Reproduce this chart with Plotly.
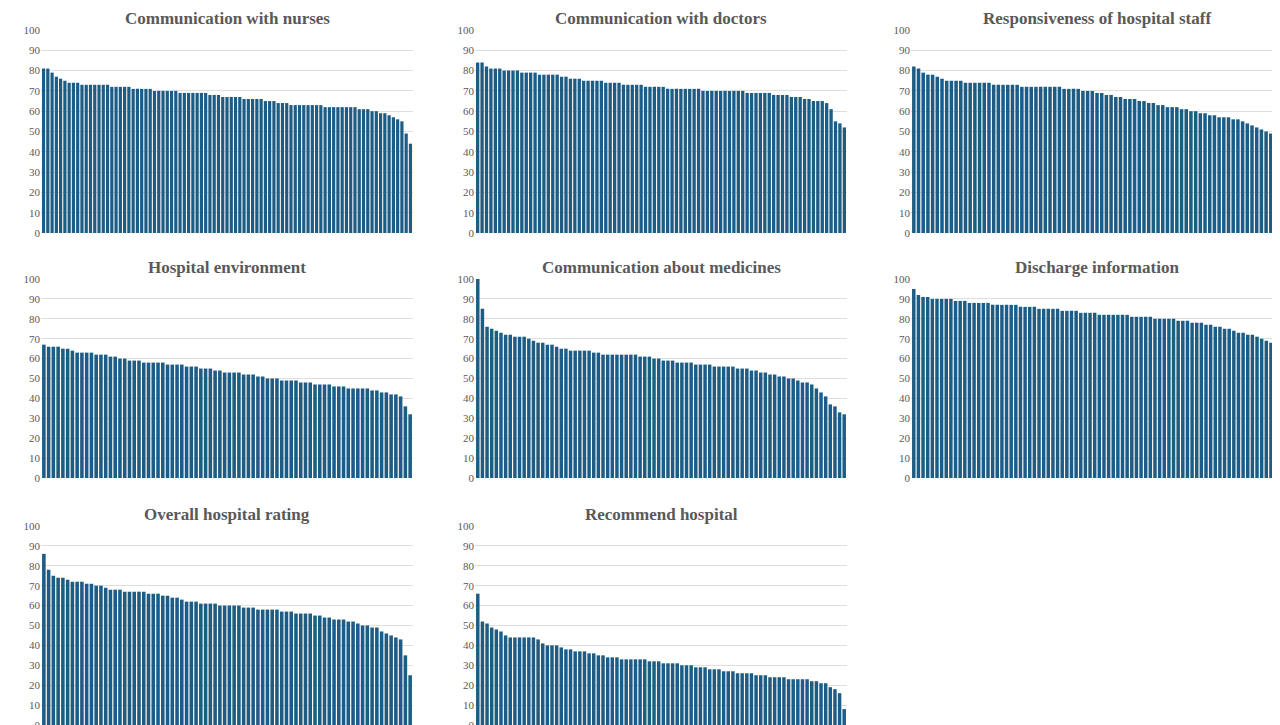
import plotly.graph_objects as go

titles = ["Communication with nurses", "Communication with doctors", "Responsiveness of hospital staff",
          "Hospital environment", "Communication about medicines", "Discharge information",
          "Overall hospital rating", "Recommend hospital"]

nurses = [81,81,79,77,76,75,74,74,74,73,73,73,73,73,73,73,72,72,72,72,72,71,71,71,71,71,70,70,70,70,70,70,69,69,69,69,69,69,69,68,68,68,67,67,67,67,67,66,66,66,66,66,65,65,65,64,64,64,63,63,63,63,63,63,63,63,62,62,62,62,62,62,62,62,61,61,61,60,60,59,59,58,57,56,55,49,44]
doctors = [84,84,82,81,81,81,80,80,80,80,79,79,79,79,78,78,78,78,78,77,77,76,76,76,75,75,75,75,75,74,74,74,74,73,73,73,73,73,72,72,72,72,72,71,71,71,71,71,71,71,71,70,70,70,70,70,70,70,70,70,70,69,69,69,69,69,69,68,68,68,68,67,67,67,66,66,65,65,65,64,61,55,54,52]
responsiveness = [82,81,79,78,78,77,76,75,75,75,75,74,74,74,74,74,74,73,73,73,73,73,73,72,72,72,72,72,72,72,72,72,71,71,71,71,70,70,70,69,69,68,68,67,67,66,66,66,65,65,64,64,63,63,62,62,62,61,61,60,60,59,59,58,58,57,57,57,56,56,55,54,53,52,51,50,49,47,44]
environment = [67,66,66,66,65,65,64,63,63,63,63,62,62,62,61,61,60,60,59,59,59,58,58,58,58,58,57,57,57,57,56,56,56,55,55,55,54,54,53,53,53,53,52,52,52,51,51,50,50,50,49,49,49,49,48,48,48,47,47,47,47,46,46,46,45,45,45,45,45,44,44,43,43,42,42,41,36,32]
medicines = [100,85,76,75,74,73,72,72,71,71,71,70,69,68,68,67,67,66,65,65,64,64,64,64,64,63,63,62,62,62,62,62,62,62,62,61,61,61,60,60,59,59,59,58,58,58,58,57,57,57,57,56,56,56,56,56,55,55,55,54,54,53,53,52,52,51,51,50,50,49,48,48,47,45,43,41,37,36,33,32]
discharge = [95,92,91,91,90,90,90,90,90,89,89,89,88,88,88,88,88,87,87,87,87,87,87,86,86,86,86,85,85,85,85,85,84,84,84,84,83,83,83,83,82,82,82,82,82,82,82,81,81,81,81,81,80,80,80,80,80,79,79,79,78,78,78,77,77,76,76,75,75,74,73,73,72,72,71,70,69,68,67,66]
overall = [86,78,75,74,74,73,72,72,72,71,71,70,70,69,68,68,68,67,67,67,67,67,66,66,66,65,65,64,64,63,62,62,62,61,61,61,61,60,60,60,60,60,59,59,59,58,58,58,58,58,57,57,57,56,56,56,56,55,55,54,54,53,53,53,52,52,51,50,50,49,49,47,46,45,44,43,35,25]
recommend = [66,52,51,49,48,47,45,44,44,44,44,44,44,43,41,40,40,40,39,38,38,37,37,37,36,36,35,35,34,34,34,33,33,33,33,33,33,32,32,32,31,31,31,31,30,30,30,29,29,29,28,28,28,27,27,27,26,26,26,26,25,25,25,24,24,24,24,23,23,23,23,23,22,22,21,21,19,18,16,8]

series = [nurses, doctors, responsiveness, environment, medicines, discharge, overall, recommend]

W, H = 1280, 725
xdom = [(33, 405), (467, 839), (903, 1275)]
ydom = [(22, 225), (271, 470), (518, 717)]

fig = go.Figure()
layout = {}
for i, (t, vals) in enumerate(zip(titles, series)):
    r, c = divmod(i, 3)
    n = i + 1
    xs = "" if n == 1 else str(n)
    fig.add_trace(go.Bar(x=list(range(len(vals))), y=vals, marker=dict(color="#1d5c85", line_width=0),
                         xaxis="x" + xs, yaxis="y" + xs, showlegend=False))
    x0, x1 = xdom[c]
    y0, y1 = ydom[r]
    layout["xaxis" + xs] = dict(domain=[x0 / W, x1 / W], showticklabels=False, showgrid=False,
                                zeroline=False, showline=False, ticks="", anchor="y" + xs,
                                automargin=False, range=[-0.6, len(vals) - 0.4])
    layout["yaxis" + xs] = dict(domain=[1 - y1 / H, 1 - y0 / H], range=[0, 100], dtick=10,
                                gridcolor="#dedede", zeroline=False, showline=False, automargin=False,
                                tickfont=dict(family="Liberation Serif", size=11, color="#595959"),
                                anchor="x" + xs)
    fig.add_annotation(text="<b>" + t + "</b>", x=(x0 + x1) / 2 / W, y=1 - (y0 - 12) / H,
                       xref="paper", yref="paper", showarrow=False, xanchor="center", yanchor="middle",
                       font=dict(family="Liberation Serif", size=17, color="#595959"))

fig.update_layout(width=W, height=H, margin=dict(l=0, r=0, t=0, b=0, autoexpand=False), bargap=0.25,
                  plot_bgcolor="white", paper_bgcolor="white", **layout)
fig.write_html("out.html")
